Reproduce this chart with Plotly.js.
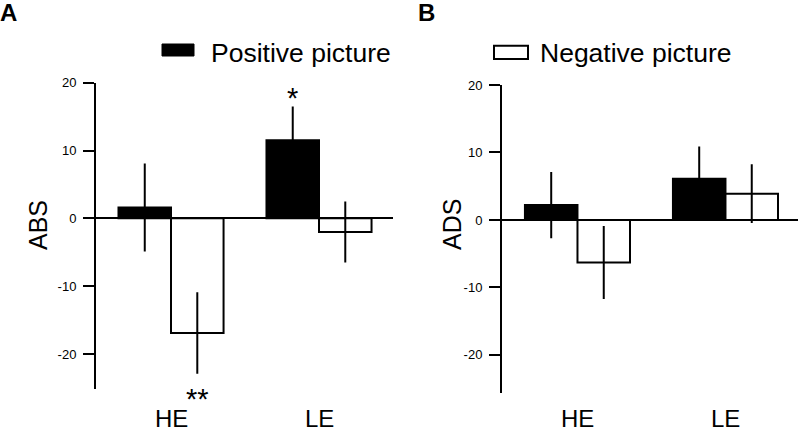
<!DOCTYPE html>
<html>
<head>
<meta charset="utf-8">
<script src="https://cdn.plot.ly/plotly-3.0.1.min.js"></script>
<style>html,body{margin:0;padding:0;background:#fff;}#chart{width:800px;height:433px;}</style>
</head>
<body>
<div id="chart"></div>
<script>
// ---- data ----
var categories = ['HE', 'LE'];
var absPositive = [1.6, 11.5];
var absPositiveErr = [6.5, 5.0];
var absNegative = [-16.9, -2.0];
var absNegativeErr = [6.0, 4.5];
var adsPositive = [2.2, 6.1];
var adsPositiveErr = [4.9, 4.8];
var adsNegative = [-6.3, 3.9];
var adsNegativeErr = [5.4, 4.35];
var yTicks = [-20, -10, 0, 10, 20];
var yTickText = ['-20', '-10', '0', '10', '20'];
var seriesNames = ['Positive picture', 'Negative picture'];
var panelLabels = ['A', 'B'];
var yTitles = ['ABS', 'ADS'];
var sigLabels = ['*', '**'];

var FONT = 'Arial, "Liberation Sans", sans-serif';
var BW = 0.355;

function barTrace(y, err, filled, xa, ya, name) {
  return {
    type: 'bar', x: categories, y: y, name: name, xaxis: xa, yaxis: ya,
    showlegend: false,
    marker: {color: filled ? '#000' : '#fff', line: {color: '#000', width: 2}},
    error_y: {type: 'data', array: err, visible: true, color: '#000', thickness: 2, width: 0}
  };
}

var data = [
  barTrace(absPositive, absPositiveErr, true, 'x', 'y', seriesNames[0]),
  barTrace(absNegative, absNegativeErr, false, 'x', 'y', seriesNames[1]),
  barTrace(adsPositive, adsPositiveErr, true, 'x2', 'y2', seriesNames[0]),
  barTrace(adsNegative, adsNegativeErr, false, 'x2', 'y2', seriesNames[1])
];

function yAxis(domain, range, xa) {
  return {
    domain: domain, range: range, anchor: xa,
    tickmode: 'array', tickvals: yTicks, ticktext: yTickText,
    showline: true, linewidth: 2, linecolor: '#000',
    ticks: 'outside', ticklen: 11, tickwidth: 2, tickcolor: '#000',
    ticklabelstandoff: 4,
    tickfont: {family: FONT, size: 13, color: '#000'},
    showgrid: false,
    zeroline: true, zerolinecolor: '#000', zerolinewidth: 2,
    fixedrange: true
  };
}
function xAxis(domain, range, ya) {
  return {
    domain: domain, range: range, anchor: ya, type: 'category',
    showline: false, ticks: '', showgrid: false, zeroline: false,
    showticklabels: false,
    fixedrange: true
  };
}

function txt(text, x, y, size, xa, ya, extra) {
  var a = {text: text, xref: 'paper', yref: 'paper', x: x, y: y, xanchor: xa, yanchor: ya,
    showarrow: false, font: {family: FONT, size: size, color: '#000'}};
  for (var k in extra) a[k] = extra[k];
  return a;
}

var annotations = [
  txt('<b>' + panelLabels[0] + '</b>', -0.002, 1 - 12/433, 24, 'left', 'middle'),
  txt('<b>' + panelLabels[1] + '</b>', 416/800, 1 - 12/433, 24, 'left', 'middle'),
  txt(seriesNames[0], 209/800, 1 - 52.5/433, 26.5, 'left', 'middle'),
  txt(seriesNames[1], 538/800, 1 - 53/433, 26.5, 'left', 'middle'),
  txt(yTitles[0], 38/800, 1 - 225/433, 25, 'center', 'middle', {textangle: -90}),
  txt(yTitles[1], 452/800, 1 - 224/433, 25, 'center', 'middle', {textangle: -90}),
  {text: sigLabels[0], xref: 'x', yref: 'paper', x: 1 - BW/2, y: 1 - 97.5/433, xanchor: 'center', yanchor: 'middle',
    showarrow: false, font: {family: FONT, size: 29, color: '#000'}},
  {text: sigLabels[1], xref: 'x', yref: 'paper', x: 0 + BW/2, y: 1 - 399/433, xanchor: 'center', yanchor: 'middle',
    showarrow: false, font: {family: FONT, size: 29, color: '#000'}}
];
['x', 'x2'].forEach(function (xr) {
  categories.forEach(function (c, i) {
    annotations.push({text: c, xref: xr, yref: 'paper', x: i, y: 1 - 418/433, xanchor: 'center', yanchor: 'middle',
      showarrow: false, font: {family: FONT, size: 24, color: '#000'}});
  });
});

var layout = {
  width: 800, height: 433, autosize: false,
  margin: {l: 0, r: 0, t: 0, b: 0},
  paper_bgcolor: '#fff', plot_bgcolor: '#fff',
  barmode: 'group', bargap: 0.29, bargroupgap: 0,
  showlegend: false,
  xaxis: xAxis([96/800, 393/800], [-0.507, 1.5], 'y'),
  yaxis: yAxis([1 - 389.3/433, 1 - 82.7/433], [-25.2, 20], 'x'),
  xaxis2: xAxis([502/800, 798/800], [-0.51, 1.49], 'y2'),
  yaxis2: yAxis([1 - 392.7/433, 1 - 85/433], [-25.6, 20], 'x2'),
  shapes: [
    {type: 'rect', xref: 'paper', yref: 'paper', x0: 162/800, x1: 194/800, y0: 1 - 56/433, y1: 1 - 44/433, fillcolor: '#000', line: {color: '#000', width: 1}},
    {type: 'rect', xref: 'paper', yref: 'paper', x0: 494/800, x1: 528/800, y0: 1 - 59/433, y1: 1 - 45.7/433, fillcolor: '#fff', line: {color: '#000', width: 2}}
  ],
  annotations: annotations
};

Plotly.newPlot('chart', data, layout, {staticPlot: true, displayModeBar: false});
</script>
</body>
</html>
